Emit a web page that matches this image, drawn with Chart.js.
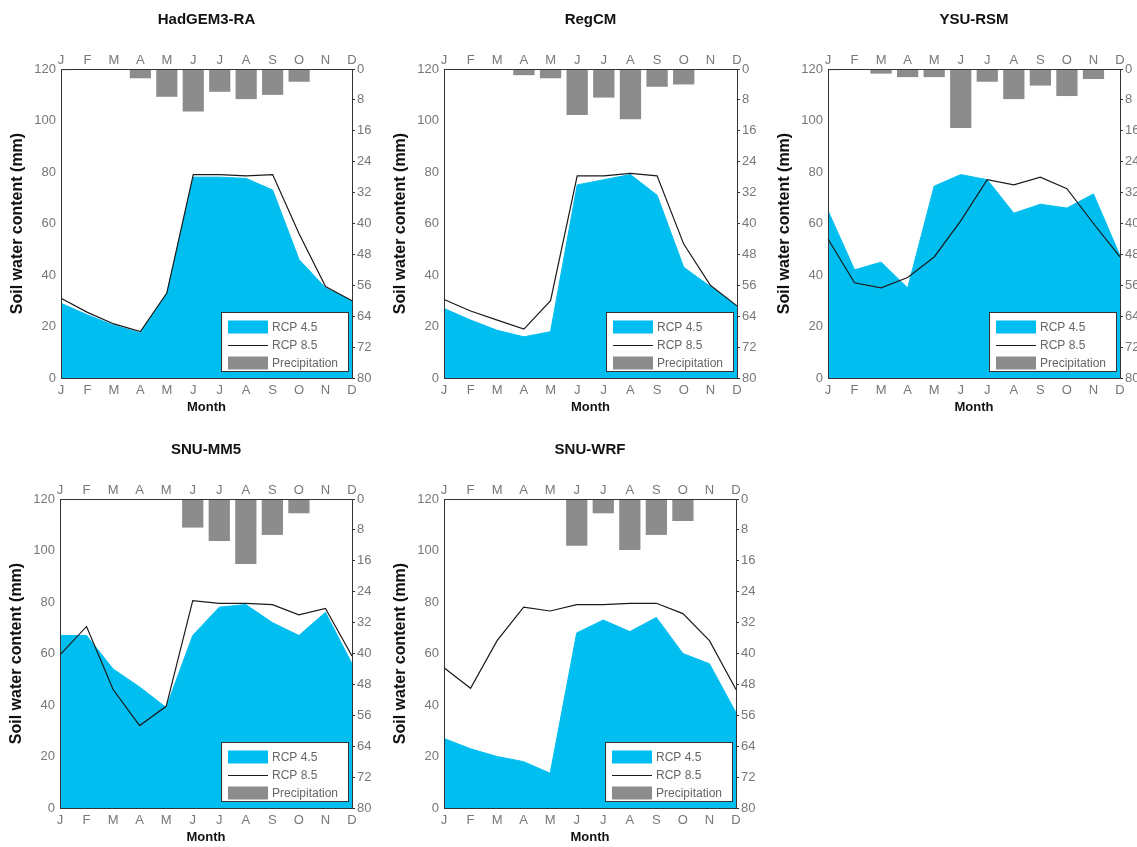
<!DOCTYPE html>
<html>
<head>
<meta charset="utf-8">
<title>Monthly soil water content and precipitation</title>
<script src="https://cdn.jsdelivr.net/npm/chart.js@4.4.0/dist/chart.umd.min.js"></script>
<style>
  html, body { margin: 0; padding: 0; background: #fff; overflow: hidden; }
  body { width: 1137px; height: 847px; position: relative; }
  canvas { position: absolute; }
</style>
</head>
<body>
<canvas id="c0"></canvas>
<canvas id="c1"></canvas>
<canvas id="c2"></canvas>
<canvas id="c3"></canvas>
<canvas id="c4"></canvas>
<script>
const months = ['J', 'F', 'M', 'A', 'M', 'J', 'J', 'A', 'S', 'O', 'N', 'D'];
const seriesNames = ['RCP 4.5', 'RCP 8.5', 'Precipitation'];

// soil water content (mm), left axis; precipitation, right axis (reversed)
const hadRcp45 = [29, 24.5, 20.5, 17.5, 33, 78, 78, 77.5, 73, 46, 35, 30];
const hadRcp85 = [31, 25.5, 21, 18, 33, 79, 79, 78.5, 79, 56, 35.5, 30];
const hadPrecip = [0.3, 0, 0, 2.4, 7.2, 11, 5.9, 7.8, 6.7, 3.3, 0, 0];

const regRcp45 = [27, 22.5, 18.5, 16, 18, 75, 77, 79, 71, 43, 35.5, 28];
const regRcp85 = [30.5, 26, 22.5, 19, 30, 78.5, 78.5, 79.5, 78.5, 52, 36, 28];
const regPrecip = [0, 0, 0, 1.6, 2.4, 11.9, 7.4, 13, 4.6, 4, 0, 0];

const ysuRcp45 = [65, 42, 45, 35, 74.5, 79, 77, 64, 67.5, 66, 71.5, 47.5];
const ysuRcp85 = [54, 37, 35, 39, 47, 61, 77, 75, 78, 73.5, 60, 47];
const ysuPrecip = [0.3, 0.2, 1.2, 2.1, 2.1, 15.3, 3.3, 7.8, 4.3, 7, 2.6, 0];

const mm5Rcp45 = [67, 67, 54, 47, 39, 67, 78, 79, 72, 67, 76, 56];
const mm5Rcp85 = [59.5, 70.5, 46, 32, 39.5, 80.5, 79.5, 79.5, 79, 75, 77.5, 59];
const mm5Precip = [0, 0, 0, 0, 0, 7.4, 10.9, 16.8, 9.3, 3.7, 0, 0];

const wrfRcp45 = [27, 23, 20, 18, 13.5, 68, 73, 68.5, 74, 60, 56, 37];
const wrfRcp85 = [54.5, 46.5, 65, 78, 76.5, 79, 79, 79.5, 79.5, 75.5, 65, 46];
const wrfPrecip = [0, 0, 0, 0, 0, 12.1, 3.7, 13.2, 9.3, 5.7, 0, 0];

const fillColor = '#00bef0';
const barColor = '#8c8c8c';
const lineColor = '#1a1a1a';
const axisColor = '#333';
const tickColor = '#777';
const fontFamily = "'Liberation Sans', Arial, Helvetica, sans-serif";

// plot area of each panel: left, top, right, bottom (page pixels)
const panels = [
  { name: 'HadGEM3-RA', rcp45: hadRcp45, rcp85: hadRcp85, precip: hadPrecip, area: [61, 69, 352, 378] },
  { name: 'RegCM', rcp45: regRcp45, rcp85: regRcp85, precip: regPrecip, area: [444, 69, 737, 378] },
  { name: 'YSU-RSM', rcp45: ysuRcp45, rcp85: ysuRcp85, precip: ysuPrecip, area: [828, 69, 1120, 378] },
  { name: 'SNU-MM5', rcp45: mm5Rcp45, rcp85: mm5Rcp85, precip: mm5Precip, area: [60, 499, 352, 808] },
  { name: 'SNU-WRF', rcp45: wrfRcp45, rcp85: wrfRcp85, precip: wrfPrecip, area: [444, 499, 736, 808] }
];

const SIDE = 61;    // width kept for each y axis
const ABOVE = 70;   // title + top month axis
const BELOW = 40;   // bottom month axis + "Month"
const TITLE_H = 30; // title box: 15px * 1.2 + 12 padding

Chart.defaults.font.family = fontFamily;

// legend box drawn inside the lower right corner of the plot
const boxLegend = {
  id: 'boxLegend',
  afterDraw(chart) {
    const { ctx, chartArea: a } = chart;
    const ds = chart.data.datasets;
    const x0 = Math.round(a.right) - 131;
    const y0 = Math.round(a.bottom) - 66;
    ctx.save();
    ctx.fillStyle = '#fff';
    ctx.fillRect(x0, y0, 128, 60);
    ctx.strokeStyle = axisColor;
    ctx.lineWidth = 1;
    ctx.strokeRect(x0 + 0.5, y0 + 0.5, 127, 59);
    ctx.font = '12px ' + fontFamily;
    ctx.textBaseline = 'middle';
    ds.forEach((d, i) => {
      const cy = y0 + 15 + i * 18;
      if (d.type === 'line' && !d.fill) {
        ctx.strokeStyle = d.borderColor;
        ctx.lineWidth = 1.2;
        ctx.beginPath();
        ctx.moveTo(x0 + 7, cy + 0.5);
        ctx.lineTo(x0 + 47, cy + 0.5);
        ctx.stroke();
      } else {
        ctx.fillStyle = d.backgroundColor;
        ctx.fillRect(x0 + 7, cy - 6.5, 40, 13);
      }
      ctx.fillStyle = '#666';
      ctx.fillText(d.label, x0 + 51, cy + 0.5);
    });
    ctx.restore();
  }
};

function makeChart(p, idx) {
  const [l, t, r, b] = p.area;
  const canvas = document.getElementById('c' + idx);
  canvas.width = (r - l) + 2 * SIDE;
  canvas.height = (b - t) + ABOVE + BELOW;
  canvas.style.left = (l - SIDE) + 'px';
  canvas.style.top = (t - ABOVE) + 'px';

  const noGrid = { drawOnChartArea: false, drawTicks: false };
  const frame = { display: true, color: axisColor, width: 1, z: 1 };
  const tickFont = { size: 13 };

  new Chart(canvas, {
    type: 'line',
    data: {
      labels: months,
      datasets: [
        {
          type: 'line', label: seriesNames[0], data: p.rcp45,
          yAxisID: 'y', fill: 'origin', order: 1,
          backgroundColor: fillColor, borderColor: fillColor, borderWidth: 1,
          pointRadius: 0, tension: 0
        },
        {
          type: 'line', label: seriesNames[1], data: p.rcp85,
          yAxisID: 'y', fill: false, order: 0,
          borderColor: lineColor, borderWidth: 1.2,
          pointRadius: 0, tension: 0
        },
        {
          type: 'bar', label: seriesNames[2], data: p.precip,
          yAxisID: 'y2', order: 2,
          backgroundColor: barColor, borderWidth: 0,
          categoryPercentage: 1, barPercentage: 0.8
        }
      ]
    },
    options: {
      responsive: false,
      animation: false,
      layout: { padding: 0 },
      plugins: {
        legend: { display: false },
        tooltip: { enabled: false },
        title: {
          display: true, text: p.name, color: '#111',
          font: { size: 15, weight: 'bold' },
          padding: { top: 12, bottom: 0 }
        }
      },
      scales: {
        x: {
          type: 'category', position: 'bottom', offset: false,
          grid: noGrid, border: frame,
          ticks: { color: tickColor, font: tickFont, padding: 5, maxRotation: 0, autoSkip: false },
          title: { display: true, text: 'Month', color: '#111', font: { size: 13, weight: 'bold' }, padding: { top: 0, bottom: 3 } },
          afterFit: s => { s.height = BELOW; }
        },
        xTop: {
          type: 'category', position: 'top', offset: false, labels: months,
          grid: noGrid, border: frame,
          ticks: { color: tickColor, font: tickFont, padding: 1, maxRotation: 0, autoSkip: false },
          afterFit: s => { s.height = ABOVE - TITLE_H; }
        },
        y: {
          position: 'left', min: 0, max: 120,
          grid: noGrid, border: frame,
          ticks: { stepSize: 20, color: tickColor, font: tickFont, padding: 5 },
          title: { display: true, text: 'Soil water content (mm)', color: '#111', font: { size: 16, weight: 'bold' }, padding: { top: 8, bottom: 0 } },
          afterFit: s => { s.width = SIDE; }
        },
        y2: {
          position: 'right', min: 0, max: 80, reverse: true,
          grid: { drawOnChartArea: false, drawTicks: true, tickLength: 3, color: axisColor },
          border: frame,
          ticks: { stepSize: 8, color: tickColor, font: tickFont, padding: 2 },
          afterFit: s => { s.width = SIDE; }
        }
      }
    },
    plugins: [boxLegend]
  });
}

panels.forEach(makeChart);
</script>
</body>
</html>
